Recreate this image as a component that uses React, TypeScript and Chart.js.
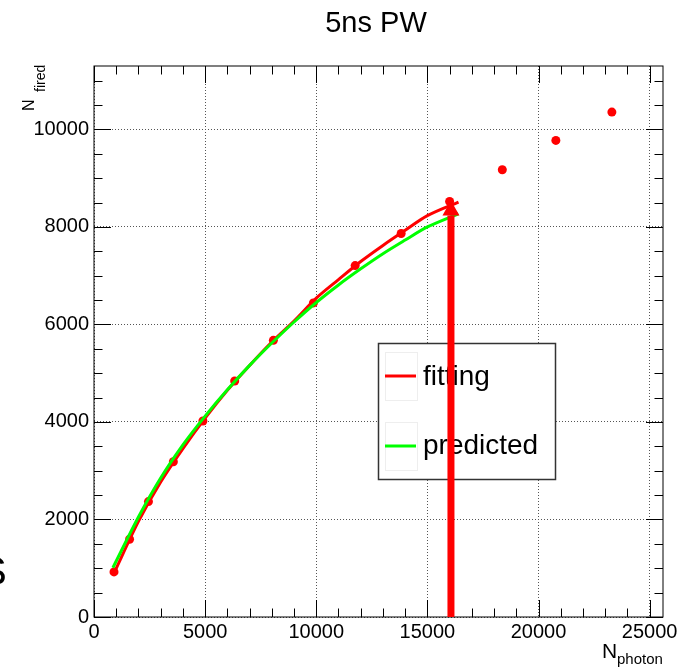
import React, { useEffect, useRef } from 'react';
import { Chart, registerables } from 'chart.js';

Chart.register(...registerables);

// ---- data ----
const measuredX = [900, 1600, 2450, 3570, 4900, 6330, 8070, 9870, 11750, 13820, 16000, 18370, 20780, 23300];
const measuredY = [925, 1595, 2367, 3185, 4020, 4840, 5674, 6441, 7207, 7864, 8521, 9172, 9774, 10355];

const fittingX = [900, 2000, 3000, 4000, 5000, 6000, 7000, 8000, 9000, 10000, 11000, 12000, 13000, 14000, 15000, 16400];
const fittingY = [900, 1960, 2770, 3455, 4080, 4650, 5160, 5640, 6070, 6540, 6920, 7290, 7620, 7930, 8230, 8510];

const predictedX = [850, 2000, 3000, 4000, 5000, 6000, 7000, 8000, 9000, 10000, 11000, 12000, 13000, 14000, 15000, 16390];
const predictedY = [1010, 2050, 2850, 3530, 4120, 4660, 5160, 5620, 6050, 6450, 6810, 7140, 7450, 7730, 8000, 8270];

const xTicks = [0, 5000, 10000, 15000, 20000, 25000];
const yTicks = [0, 2000, 4000, 6000, 8000, 10000];
const xRange = [0, 25600];
const yRange = [0, 11300];
const xMinorStep = 1000;
const yMinorStep = 500;

const arrowX = 16060;
const arrowBaseY = 0;
const arrowTipY = 8540;

const titleText = '5ns PW';
const legendLabels = ['fitting', 'predicted'];

const FONT = '"Liberation Sans", Arial, Helvetica, sans-serif';
const RED = '#ff0000';
const GREEN = '#00ff00';

const toPts = (xs: number[], ys: number[]) => xs.map((x, i) => ({ x, y: ys[i] }));

const decorPlugin = {
  id: 'rootDecor',
  afterDatasetsDraw(chart: any) {
    const { ctx, chartArea } = chart;
    const { left, right, top, bottom } = chartArea;
    const xs = chart.scales.x;
    const ys = chart.scales.y;
    ctx.save();

    // frame
    ctx.strokeStyle = '#000';
    ctx.lineWidth = 1;
    ctx.strokeRect(left, top, right - left, bottom - top);

    // inward ticks on all four sides
    ctx.beginPath();
    const majX = 17, minX = 8.5, majY = 17, minY = 8.5;
    for (let v = xRange[0]; v <= xRange[1]; v += xMinorStep) {
      const px = Math.round(xs.getPixelForValue(v)) + 0.5;
      const len = xTicks.includes(v) ? majX : minX;
      ctx.moveTo(px, bottom); ctx.lineTo(px, bottom - len);
      ctx.moveTo(px, top); ctx.lineTo(px, top + len);
    }
    for (let v = yRange[0]; v <= yRange[1]; v += yMinorStep) {
      const py = Math.round(ys.getPixelForValue(v)) + 0.5;
      const len = yTicks.includes(v) ? majY : minY;
      ctx.moveTo(left, py); ctx.lineTo(left + len, py);
      ctx.moveTo(right, py); ctx.lineTo(right - len, py);
    }
    ctx.strokeStyle = '#000';
    ctx.lineWidth = 1;
    ctx.stroke();

    // legend
    const lx = 378, ly = 343, lw = 178, lh = 137;
    ctx.fillStyle = '#fff';
    ctx.fillRect(lx, ly, lw, lh);
    ctx.strokeStyle = '#333';
    ctx.lineWidth = 1.5;
    ctx.strokeRect(lx + 0.5, ly + 0.5, lw - 1, lh - 1);
    const entries = [
      { label: legendLabels[0], color: RED, boxY: 352, lineY: 376, textY: 385 },
      { label: legendLabels[1], color: GREEN, boxY: 422, lineY: 446, textY: 454 },
    ];
    entries.forEach((e) => {
      ctx.strokeStyle = '#eeeeee';
      ctx.lineWidth = 1;
      ctx.strokeRect(385.5, e.boxY + 0.5, 32, 48);
      ctx.strokeStyle = e.color;
      ctx.lineWidth = 3;
      ctx.beginPath();
      ctx.moveTo(385, e.lineY);
      ctx.lineTo(416, e.lineY);
      ctx.stroke();
      ctx.fillStyle = '#000';
      ctx.font = `28px ${FONT}`;
      ctx.textAlign = 'left';
      ctx.textBaseline = 'alphabetic';
      ctx.fillText(e.label, 423, e.textY);
    });

    // title
    ctx.fillStyle = '#000';
    ctx.font = `29px ${FONT}`;
    ctx.textAlign = 'center';
    ctx.textBaseline = 'alphabetic';
    ctx.fillText(titleText, 376, 32);

    // x axis title N_photon
    ctx.textAlign = 'left';
    ctx.font = `21px ${FONT}`;
    ctx.fillText('N', 602, 658);
    ctx.font = `15px ${FONT}`;
    ctx.fillText('photon', 617, 664);

    // y axis title N_fired (rotated)
    ctx.save();
    ctx.translate(34, 111);
    ctx.rotate(-Math.PI / 2);
    ctx.font = `16px ${FONT}`;
    ctx.fillText('N', 0, 0);
    ctx.font = `14px ${FONT}`;
    ctx.fillText('fired', 19, 11);
    ctx.restore();

    // partial glyph at left edge
    ctx.font = `40px ${FONT}`;
    ctx.fillText('S', -20, 585);

    // arrow
    const ax = xs.getPixelForValue(arrowX);
    const ab = ys.getPixelForValue(arrowBaseY);
    const at = ys.getPixelForValue(arrowTipY);
    const headLen = 15, headHalf = 8.5;
    ctx.strokeStyle = RED;
    ctx.fillStyle = RED;
    ctx.lineWidth = 7;
    ctx.beginPath();
    ctx.moveTo(ax, ab);
    ctx.lineTo(ax, at + headLen);
    ctx.stroke();
    ctx.beginPath();
    ctx.moveTo(ax, at);
    ctx.lineTo(ax - headHalf, at + headLen);
    ctx.lineTo(ax + headHalf, at + headLen);
    ctx.closePath();
    ctx.fill();

    ctx.restore();
  },
};

export default function App() {
  const ref = useRef<HTMLCanvasElement>(null);
  useEffect(() => {
    const canvas = ref.current;
    if (!canvas) return;
    const chart = new Chart(canvas, {
      type: 'scatter',
      data: {
        datasets: [
          {
            label: 'predicted',
            type: 'line',
            data: toPts(predictedX, predictedY),
            borderColor: GREEN,
            backgroundColor: GREEN,
            borderWidth: 3,
            pointRadius: 0,
            tension: 0.3,
            fill: false,
            order: 0,
          } as any,
          {
            label: 'fitting',
            type: 'line',
            data: toPts(fittingX, fittingY),
            borderColor: RED,
            backgroundColor: RED,
            borderWidth: 3,
            pointRadius: 0,
            tension: 0.3,
            fill: false,
            order: 1,
          } as any,
          {
            label: 'measured',
            data: toPts(measuredX, measuredY),
            backgroundColor: RED,
            borderColor: RED,
            borderWidth: 0,
            pointRadius: 4.5,
            showLine: false,
            order: 2,
          },
        ],
      },
      options: {
        responsive: false,
        animation: false,
        devicePixelRatio: 1,
        layout: { padding: { left: 14, top: 66, right: 27, bottom: 12 } },
        plugins: {
          legend: { display: false },
          tooltip: { enabled: false },
          title: { display: false },
        },
        scales: {
          x: {
            type: 'linear',
            position: 'bottom',
            min: xRange[0],
            max: xRange[1],
            afterBuildTicks: (s: any) => { s.ticks = xTicks.map((v) => ({ value: v })); },
            afterFit: (s: any) => { s.height = 40; },
            ticks: {
              font: { family: FONT, size: 20 },
              color: '#000',
              padding: 3,
              maxRotation: 0,
              autoSkip: false,
              callback: (v: any) => String(v),
            },
            grid: { color: '#555', lineWidth: 1, drawTicks: false },
            border: { display: false, dash: [1, 2] },
          },
          y: {
            type: 'linear',
            position: 'left',
            min: yRange[0],
            max: yRange[1],
            afterBuildTicks: (s: any) => { s.ticks = yTicks.map((v) => ({ value: v })); },
            afterFit: (s: any) => { s.width = 80; },
            ticks: {
              font: { family: FONT, size: 20 },
              color: '#000',
              padding: 5,
              autoSkip: false,
              callback: (v: any) => String(v),
            },
            grid: { color: '#555', lineWidth: 1, drawTicks: false },
            border: { display: false, dash: [1, 2] },
          },
        },
      },
      plugins: [decorPlugin],
    });
    return () => chart.destroy();
  }, []);
  return (
    <div style={{ position: 'absolute', left: 0, top: 0, width: 690, height: 669, background: '#fff' }}>
      <canvas ref={ref} width={690} height={669} style={{ display: 'block', width: 690, height: 669 }} />
    </div>
  );
}
